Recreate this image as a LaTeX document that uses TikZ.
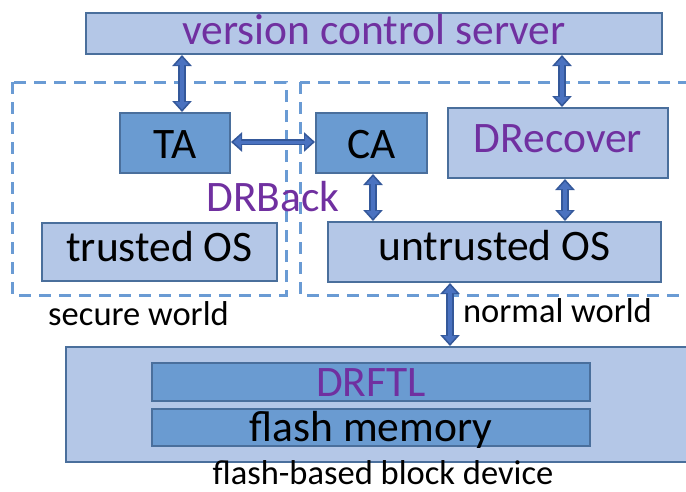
\documentclass[tikz,border=0pt]{standalone}
\usepackage{fontspec}
\setmainfont{Carlito}
\usetikzlibrary{arrows.meta,calc}

\definecolor{boxlight}{HTML}{B4C7E7}
\definecolor{boxdark}{HTML}{6A9BD1}
\definecolor{boxedge}{HTML}{4A6F9C}
\definecolor{worldline}{HTML}{6A9BD4}
\definecolor{accent}{HTML}{7030A0}
\definecolor{arrowedge}{HTML}{34589A}
\definecolor{arrowcore}{HTML}{4A72C0}

\newcommand\bigtxt{\fontsize{43.5}{48}\selectfont}
\newcommand\smalltxt{\fontsize{34.5}{40}\selectfont}

\begin{document}
\begin{tikzpicture}[x=1pt,y=-1pt,
  base/.style={draw=boxedge, line width=2pt, inner sep=0pt, font=\bigtxt},
  light/.style={base, fill=boxlight},
  dark/.style={base, fill=boxdark},
  bl/.style={text height=2*#1 pt, text depth=0pt},
  world/.style={draw=worldline, line width=3pt, dash pattern=on 12pt off 8pt},
  arrowout/.style={draw=arrowedge, line width=#1,
    {Triangle[width=19pt,length=11pt]}-{Triangle[width=19pt,length=11pt]}},
  arrowin/.style={draw=arrowcore, line width=#1, shorten <=2.6pt, shorten >=2.6pt,
    {Triangle[width=13pt,length=7.5pt]}-{Triangle[width=13pt,length=7.5pt]}},
  caption/.style={anchor=base, font=\smalltxt, inner sep=0pt}
]
\useasboundingbox (0,0) rectangle (686,491);

% trust zones
\draw[world] (12,82) rectangle (286,295);
\draw[world] (300,82) rectangle (702,295);

% boxes
\node[light, minimum width=576pt, minimum height=41pt, bl=10.8, text=accent] (vcs) at (374,33.5) {version control server};
\node[dark, minimum width=110pt, minimum height=60pt, bl=15] (ta) at (175,143) {TA};
\node[dark, minimum width=111pt, minimum height=60pt, bl=15] (ca) at (371.5,143) {CA};
\node[light, minimum width=220pt, minimum height=70pt, bl=9.7, text=accent] (drec) at (558,143) {DRecover};
\node[light, minimum width=235pt, minimum height=58pt, bl=9] (tos) at (159.5,252) {trusted OS};
\node[light, minimum width=333pt, minimum height=60pt, bl=8] (uos) at (494.5,252) {untrusted OS};
\node[light, minimum width=622pt, minimum height=115pt] (dev) at (377,404.5) {};
\node[dark, minimum width=438pt, minimum height=38pt, bl=14.7, text=accent] (ftl) at (371,382) {DRFTL};
\node[dark, minimum width=438pt, minimum height=37pt, bl=14] (mem) at (371,427.5) {flash memory};

% captions
\node[caption] (sw) at (138.5,325) {secure world};
\node[caption] (nw) at (557.5,322) {normal world};
\node[caption] (fd) at (383,484) {flash-based block device};
\node[anchor=base, font=\bigtxt, text=accent, inner sep=0pt] (drb) at (273,211.5) {DRBack};

% connectors: a dark outline pass, then a lighter core
\coordinate (a1) at (182,0);
\coordinate (a2) at (562,0);
\coordinate (a3) at (0,142);
\coordinate (a4) at (373,0);
\coordinate (a5) at (565,0);
\coordinate (a6) at (450,0);
\foreach \w/\s in {8pt/arrowout, 4pt/arrowin}{
  \draw[\s=\w] (a1 |- vcs.south) -- (a1 |- ta.north);
  \draw[\s=\w] (a2 |- vcs.south) -- (a2 |- drec.north);
  \draw[\s=\w] (a4 |- ca.south) -- (a4 |- uos.north);
  \draw[\s=\w] (a5 |- drec.south) -- (a5 |- uos.north);
  \draw[\s=\w] (a6 |- uos.south) -- (a6 |- dev.north);
}
\draw[arrowout=6.5pt] (ta.east |- a3) -- (ca.west |- a3);
\draw[arrowin=3pt] (ta.east |- a3) -- (ca.west |- a3);
\end{tikzpicture}
\end{document}
